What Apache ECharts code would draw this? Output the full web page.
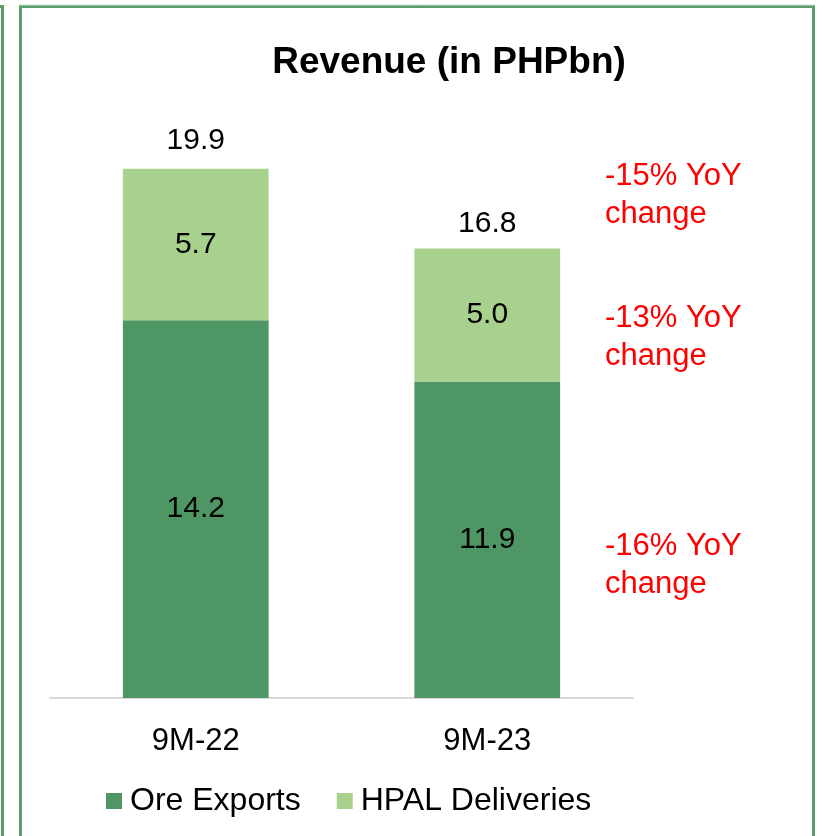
<!DOCTYPE html>
<html>
<head>
<meta charset="utf-8">
<script src="https://cdn.jsdelivr.net/npm/echarts@6/dist/echarts.min.js"></script>
<style>
  html, body { margin: 0; padding: 0; background: #fff; }
  #Revenue { width: 823px; height: 836px; }
</style>
</head>
<body>
<div id="Revenue"></div>
<script>
  var categories = ['9M-22', '9M-23']
  var oreExports = [14.2, 11.9]
  var hpalDeliveries = [5.7, 5.0]
  var totals = [19.9, 16.8]
  var yoyNotes = ['-15% YoY\nchange', '-13% YoY\nchange', '-16% YoY\nchange']
  var yoyTops = [157, 299, 527]

  var font = '"Liberation Sans", Arial, sans-serif'
  var dark = '#4e9663'
  var light = '#a9d18e'
  var frame = '#5a9e6d'

  var chart = echarts.init(document.getElementById('Revenue'))
  var notes = yoyNotes.map(function (t, i) {
    return {
      type: 'text', left: 605, top: yoyTops[i],
      style: { text: t, fill: '#ff0000', font: '31px ' + font, lineHeight: 38 }
    }
  })
  var fmt = function (p) { return p.value.toFixed(1) }
  chart.setOption({
    animation: false,
    textStyle: { fontFamily: font },
    title: {
      text: 'Revenue (in PHPbn)',
      left: 444, top: 39, textAlign: 'center',
      textStyle: { fontSize: 37, fontWeight: 'bold', color: '#000', fontFamily: font }
    },
    legend: {
      data: ['Ore Exports', 'HPAL Deliveries'],
      left: 101, top: 780,
      icon: 'rect', itemWidth: 16, itemHeight: 16, itemGap: 36,
      textStyle: { fontSize: 32, color: '#000', fontFamily: font, padding: [0, 0, 0, 3] }
    },
    grid: { left: 50, right: 190, top: 166, bottom: 138 },
    xAxis: {
      type: 'category',
      data: categories,
      axisLine: { lineStyle: { color: '#d9d9d9', width: 2 } },
      axisTick: { show: false },
      axisLabel: { fontSize: 31, color: '#000', margin: 28, fontFamily: font }
    },
    yAxis: {
      type: 'value', min: 0, max: 20, interval: 5,
      show: false,
      splitLine: { show: false }
    },
    series: [
      {
        name: 'Ore Exports', type: 'bar', stack: 'rev', barWidth: '50%',
        data: oreExports,
        itemStyle: { color: dark },
        label: { show: true, position: 'inside', fontSize: 30, color: '#000', formatter: fmt }
      },
      {
        name: 'HPAL Deliveries', type: 'bar', stack: 'rev',
        data: hpalDeliveries,
        itemStyle: { color: light },
        label: { show: true, position: 'inside', fontSize: 30, color: '#000', formatter: fmt }
      },
      {
        name: 'Total', type: 'line', data: totals,
        symbol: 'circle', symbolSize: 1, itemStyle: { opacity: 0 },
        lineStyle: { width: 0, opacity: 0 }, clip: false,
        label: { show: true, position: 'top', distance: 12, fontSize: 30, color: '#000', opacity: 1, formatter: fmt }
      }
    ],
    graphic: [
      { type: 'rect', shape: { x: 20.5, y: 6.5, width: 793, height: 840 }, style: { fill: 'none', stroke: frame, lineWidth: 3 } },
      { type: 'line', shape: { x1: 20, y1: 5, x2: 815, y2: 5 }, style: { stroke: '#c9e0cf', lineWidth: 1 } },
      { type: 'line', shape: { x1: 2.5, y1: 6, x2: 2.5, y2: 836 }, style: { stroke: frame, lineWidth: 3 } },
      { type: 'line', shape: { x1: 0, y1: 6.5, x2: 4, y2: 6.5 }, style: { stroke: frame, lineWidth: 3 } }
    ].concat(notes)
  })
</script>
</body>
</html>
